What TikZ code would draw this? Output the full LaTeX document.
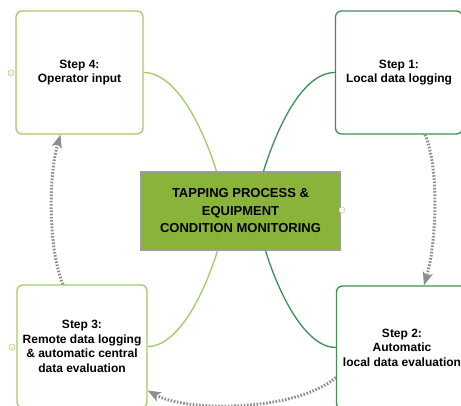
\documentclass[tikz,border=0pt]{standalone}
\usepackage{fontspec}
\setmainfont{Liberation Sans}
\usetikzlibrary{arrows.meta}

\definecolor{leafgreen}{HTML}{A3CA68}
\definecolor{pinegreen}{HTML}{3F8E55}
\definecolor{hubfill}{HTML}{8AB33A}
\definecolor{hubline}{HTML}{9C9C9C}
\definecolor{loopgray}{HTML}{8E8E8E}

\begin{document}
\begin{tikzpicture}[x=1pt,y=-1pt,
    stepbox/.style={draw, line width=1.3pt, rounded corners=6pt, fill=white,
      inner sep=0pt, minimum width=127pt, minimum height=123pt, align=center,
      font=\bfseries\fontsize{12}{14.5}\selectfont},
    hubbox/.style={draw=hubline, line width=1.5pt, fill=hubfill, inner sep=0pt,
      minimum width=199pt, minimum height=78pt, align=center,
      font=\bfseries\fontsize{13}{17.5}\selectfont},
    branch/.style={line width=1.3pt},
    cycle/.style={loopgray, line width=3pt, dash pattern=on 1.6pt off 1.6pt,
      -{Stealth[length=13pt,width=10pt,inset=3pt]}},
    fold/.style={line width=0.5pt, fill=white}]
  \useasboundingbox (0,0) rectangle (461,405);
  \clip (0,0) rectangle (461,405);

  % Drawing hub
  \node [hubbox] (hub) at (240.5,211) {TAPPING PROCESS \&\\EQUIPMENT\\CONDITION MONITORING};

  % Drawing steps
  \node [stepbox, draw=pinegreen] (s1) at (399,72.5) {Step 1:\\Local data logging};
  \node [stepbox, draw=pinegreen, minimum width=131pt] (s2) at (402,347.5) {Step 2:\\Automatic\\local data evaluation};
  \node [stepbox, draw=leafgreen, minimum width=130pt] (s3) at (82,346.5) {Step 3:\\Remote data logging\\\& automatic central\\data evaluation};
  \node [stepbox, draw=leafgreen] (s4) at (79.5,72.5) {Step 4:\\Operator input};

  % Drawing branches
  \draw [branch, leafgreen] (s4.east) .. controls +(32,0) and +(-14,-45) .. ([xshift=-24pt]hub.north);
  \draw [branch, pinegreen] (s1.west) .. controls +(-32,0) and +(14,-45) .. ([xshift=23pt]hub.north);
  \draw [branch, leafgreen] (s3.east) .. controls +(30,0) and +(-14,45) .. ([xshift=-23pt]hub.south);
  \draw [branch, pinegreen] (s2.west) .. controls +(-30,0) and +(14,45) .. ([xshift=25pt]hub.south);

  % Drawing cycle
  \draw [cycle] ([xshift=26pt]s1.south) .. controls +(15,35) and +(12,-40) .. ([xshift=22pt]s2.north);
  \draw [cycle] ([yshift=-30pt]s2.west) .. controls +(-40,34) and +(40,22) .. ([yshift=-44pt]s3.east);
  \draw [cycle] ([xshift=-19pt]s3.north) .. controls +(-15,-35) and +(-12,40) .. ([xshift=-19pt]s4.south);

  % Marking fold buttons
  \draw [fold, draw=leafgreen] (11,73) circle (3pt) +(-1.6,0) -- +(1.6,0);
  \draw [fold, draw=leafgreen] (12,347) circle (3pt) +(-1.6,0) -- +(1.6,0);
  \draw [fold, draw=hubline!60] (342,210) circle (3pt) +(-1.6,0) -- +(1.6,0);
\end{tikzpicture}
\end{document}
